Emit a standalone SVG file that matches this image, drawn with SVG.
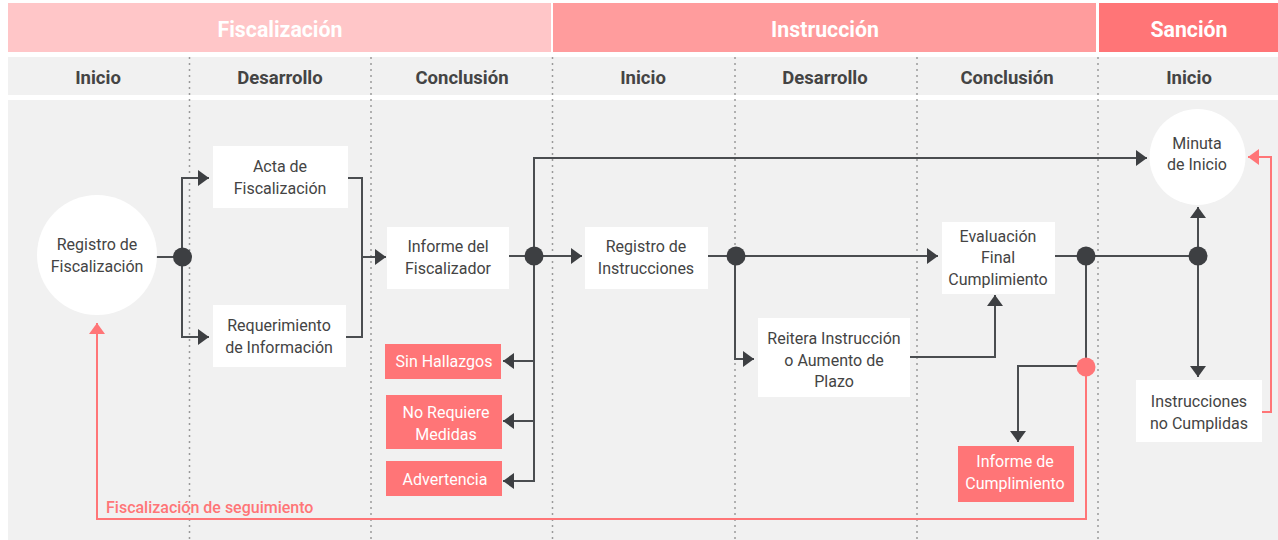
<svg xmlns="http://www.w3.org/2000/svg" width="1278" height="540" viewBox="0 0 1278 540">
<style>
.hdr{font-family:Roboto,"Liberation Sans",sans-serif;font-weight:700;font-size:21.3px;fill:#ffffff;text-anchor:middle}
.sub{font-family:Roboto,"Liberation Sans",sans-serif;font-weight:700;font-size:18.5px;fill:#444444;text-anchor:middle}
.txt{font-family:Roboto,"Liberation Sans",sans-serif;font-size:16px;fill:#444444;text-anchor:middle}
.wtxt{font-family:Roboto,"Liberation Sans",sans-serif;font-size:16px;fill:#ffffff;text-anchor:middle}
.box{fill:#ffffff}
.pbox{fill:#ff7577}
.div{stroke:#9a9a9a;stroke-width:1.5;stroke-dasharray:2 4;fill:none}
.ln{stroke:#4a4d50;stroke-width:2;fill:none}
.pln{stroke:#ff7577;stroke-width:2;fill:none}
.arr{stroke:#4a4d50;stroke-width:2;fill:none;marker-end:url(#ah)}
.parr{stroke:#ff7577;stroke-width:2;fill:none;marker-end:url(#pah)}
.dot{fill:#3d3f42}
.lbl{font-family:Roboto,"Liberation Sans",sans-serif;font-weight:500;font-size:16px;fill:#ff7577}
</style>
<defs>
<marker id="ah" markerUnits="userSpaceOnUse" viewBox="0 0 11 16" refX="11" refY="8" markerWidth="11" markerHeight="16" orient="auto">
<path d="M0,0 L11,8 L0,16 z" fill="#3d3f42"/>
</marker>
<marker id="pah" markerUnits="userSpaceOnUse" viewBox="0 0 11 16" refX="11" refY="8" markerWidth="11" markerHeight="16" orient="auto">
<path d="M0,0 L11,8 L0,16 z" fill="#ff7577"/>
</marker>
</defs>
<rect width="1278" height="540" fill="#ffffff"/>
<g id="headers">
<rect x="8" y="3" width="543" height="49" fill="#ffc6c8"/>
<rect x="553" y="3" width="543" height="49" fill="#ff9c9d"/>
<rect x="1099" y="3" width="179" height="49" fill="#ff7577"/>
<text class="hdr" x="280" y="36.5">Fiscalización</text>
<text class="hdr" x="825" y="36.5">Instrucción</text>
<text class="hdr" x="1189" y="36.5">Sanción</text>
<rect x="8" y="57" width="1270" height="38" fill="#f1f1f1"/>
<text class="sub" x="98" y="83.5">Inicio</text>
<text class="sub" x="280" y="83.5">Desarrollo</text>
<text class="sub" x="462" y="83.5">Conclusión</text>
<text class="sub" x="643" y="83.5">Inicio</text>
<text class="sub" x="825" y="83.5">Desarrollo</text>
<text class="sub" x="1007" y="83.5">Conclusión</text>
<text class="sub" x="1189" y="83.5">Inicio</text>
<rect x="8" y="100" width="1270" height="440" fill="#f1f1f1"/>
<path class="div" d="M189.5,57 V540 M371,57 V540 M552.5,57 V540 M735,57 V540 M917,57 V540 M1098,57 V540"/>
</g>
<g id="connectors">
<path class="ln" d="M156,257 H182"/>
<path class="arr" d="M182,257 V178 H209"/>
<path class="arr" d="M182,257 V337 H209"/>
<path class="ln" d="M348,178 H362 V337 H346"/>
<path class="arr" d="M362,257 H386"/>
<path class="ln" d="M509,256 H534"/>
<path class="arr" d="M534,256 H582"/>
<path class="arr" d="M534,256 V158 H1147"/>
<path class="arr" d="M534,256 V361 H503"/>
<path class="arr" d="M534,361 V421 H503"/>
<path class="arr" d="M534,421 V481 H503"/>
<path class="ln" d="M707,256 H736"/>
<path class="arr" d="M736,256 H938"/>
<path class="arr" d="M735,256 V359 H754"/>
<path class="arr" d="M910,357 H995 V295"/>
<path class="ln" d="M1054,256 H1198"/>
<path class="ln" d="M1086,256 V367"/>
<path class="arr" d="M1086,366 H1018 V442"/>
<path class="parr" d="M1086,367 V519 H97 V323"/>
<path class="arr" d="M1198,256 V207"/>
<path class="arr" d="M1198,256 V377"/>
<path class="parr" d="M1262,412 H1271 V157 H1248"/>
<circle class="dot" cx="182.5" cy="257" r="9.5"/>
<circle class="dot" cx="534" cy="256" r="9.5"/>
<circle class="dot" cx="736" cy="256" r="9.5"/>
<circle class="dot" cx="1086" cy="256" r="9.5"/>
<circle class="dot" cx="1198" cy="256" r="9.5"/>
<circle cx="1086" cy="367" r="9.5" fill="#ff7577"/>
<text class="lbl" x="106" y="513">Fiscalización de seguimiento</text>
</g>
<g id="registro-fiscalizacion">
<circle cx="97" cy="255" r="60" fill="#ffffff"/>
<text class="txt" x="97" y="249.5">Registro de</text>
<text class="txt" x="97" y="271.5">Fiscalización</text>
</g>
<g id="acta">
<rect class="box" x="213" y="146" width="135" height="62"/>
<text class="txt" x="280" y="172">Acta de</text>
<text class="txt" x="280" y="193.5">Fiscalización</text>
</g>
<g id="requerimiento">
<rect class="box" x="213" y="305" width="133" height="62"/>
<text class="txt" x="279" y="331">Requerimiento</text>
<text class="txt" x="279" y="352.5">de Información</text>
</g>
<g id="informe-fiscalizador">
<rect class="box" x="387" y="227" width="122" height="62"/>
<text class="txt" x="448" y="252">Informe del</text>
<text class="txt" x="448" y="274">Fiscalizador</text>
</g>
<g id="sin-hallazgos">
<rect class="pbox" x="385" y="344" width="116" height="35"/>
<text class="wtxt" x="444" y="366.5">Sin Hallazgos</text>
</g>
<g id="no-requiere">
<rect class="pbox" x="386" y="395" width="116" height="54"/>
<text class="wtxt" x="446" y="418">No Requiere</text>
<text class="wtxt" x="446" y="440">Medidas</text>
</g>
<g id="advertencia">
<rect class="pbox" x="386" y="461" width="116" height="35"/>
<text class="wtxt" x="445" y="484.5">Advertencia</text>
</g>
<g id="registro-instrucciones">
<rect class="box" x="585" y="227" width="123" height="62"/>
<text class="txt" x="646" y="252">Registro de</text>
<text class="txt" x="646" y="274">Instrucciones</text>
</g>
<g id="reitera">
<rect class="box" x="758" y="318" width="152" height="79"/>
<text class="txt" x="834" y="344">Reitera Instrucción</text>
<text class="txt" x="834" y="365.5">o Aumento de</text>
<text class="txt" x="834" y="387">Plazo</text>
</g>
<g id="evaluacion">
<rect class="box" x="942" y="222" width="113" height="72"/>
<text class="txt" x="998" y="242">Evaluación</text>
<text class="txt" x="998" y="263">Final</text>
<text class="txt" x="998" y="285">Cumplimiento</text>
</g>
<g id="informe-cumplimiento">
<rect class="pbox" x="958" y="446" width="116" height="56"/>
<text class="wtxt" x="1015" y="467">Informe de</text>
<text class="wtxt" x="1015" y="489">Cumplimiento</text>
</g>
<g id="minuta">
<circle cx="1197.5" cy="157" r="48" fill="#ffffff"/>
<text class="txt" x="1197" y="148.5">Minuta</text>
<text class="txt" x="1197" y="170">de Inicio</text>
</g>
<g id="instrucciones-no-cumplidas">
<rect class="box" x="1136" y="380" width="126" height="62"/>
<text class="txt" x="1199" y="407">Instrucciones</text>
<text class="txt" x="1199" y="429">no Cumplidas</text>
</g>
</svg>
